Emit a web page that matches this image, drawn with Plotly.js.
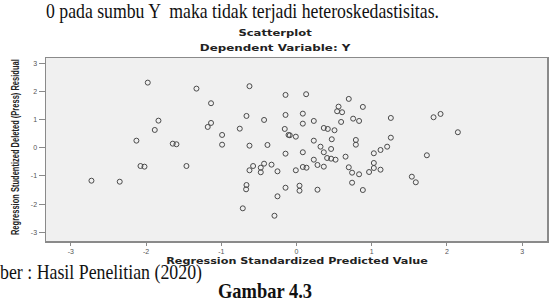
<!DOCTYPE html>
<html>
<head>
<meta charset="utf-8">
<script src="https://cdn.plot.ly/plotly-3.0.1.min.js"></script>
<style>
  html, body { margin:0; padding:0; background:#fff; width:553px; height:300px; overflow:hidden; }
  #chart { position:absolute; left:0; top:0; width:553px; height:300px; }
  .doc { position:absolute; white-space:pre; font-family:"Liberation Serif","Times New Roman",serif; font-size:22px; line-height:14px; color:#111; transform-origin:0 0; z-index:5; pointer-events:none; }
</style>
</head>
<body>
<div id="chart"></div>
<div class="doc" id="t1" data-w="393" style="left:46px; top:3.5px;">0 pada sumbu Y  maka tidak terjadi heteroskedastisitas.</div>
<div class="doc" id="t2" data-w="202" style="left:0px; top:264.5px;">ber : Hasil Penelitian (2020)</div>
<div class="doc" id="t3" data-w="94" style="left:218px; top:284px; font-weight:bold;">Gambar 4.3</div>
<script>
const predX = [-2.726,-2.350,-2.128,-2.074,-2.021,-1.977,-1.884,-1.835,-1.645,-1.596,-1.463,-1.330,-1.180,-1.136,-1.136,-0.989,-0.989,-0.754,-0.665,-0.625,-0.625,-0.431,-0.386,-0.625,-0.577,-0.665,-0.670,-0.714,-0.475,-0.475,-0.431,-0.332,-0.253,-0.253,-0.293,
  -0.146,0.128,0.695,0.559,0.882,0.540,0.606,-0.146,0.084,1.254,0.753,0.832,1.822,1.915,0.084,0.230,0.593,-0.156,0.363,0.416,0.505,-0.106,-0.089,-0.009,2.145,1.254,0.230,0.469,0.789,0.789,0.319,1.205,1.117,0.460,0.363,1.028,-0.146,0.084,1.733,0.652,0.407,0.460,0.519,0.230,1.028,0.279,0.363,0.084,0.133,0.695,1.028,1.117,-0.009,0.965,0.739,0.832,1.533,1.586,0.739,0.040,-0.146,0.040,0.279,0.882];
const residY = [-1.171,-1.207,0.248,-0.650,-0.674,2.307,0.628,0.958,0.142,0.121,-0.650,2.094,0.735,0.877,1.576,0.451,0.106,0.674,1.125,2.180,0.071,0.983,0.096,-0.802,-0.650,-1.324,-1.477,-2.151,-0.710,-0.873,-0.568,-0.603,-0.838,-1.725,-2.414,
  1.871,1.896,1.729,1.455,1.445,1.292,1.257,1.161,1.207,1.054,1.029,0.948,1.079,1.196,0.852,0.948,0.912,0.664,0.699,0.664,0.618,0.451,0.440,0.390,0.547,0.355,0.248,0.298,0.273,0.106,0.035,0.035,-0.082,-0.046,-0.163,-0.199,-0.213,-0.163,-0.270,-0.319,-0.366,-0.390,-0.426,-0.426,-0.543,-0.614,-0.674,-0.685,-0.710,-0.696,-0.721,-0.781,-0.802,-0.863,-0.887,-0.944,-1.029,-1.228,-1.242,-1.349,-1.420,-1.526,-1.491,-1.502];
const tickVals = [-3,-2,-1,0,1,2,3];
const tickText = ['-3','-2','-1','0','1','2','3'];
const chartTitle = 'Scatterplot';
const chartSubtitle = 'Dependent Variable: Y';
const xTitle = 'Regression Standardized Predicted Value';
const yTitle = 'Regression Studentized Deleted (Press) Residual';

// scanned lengths of the title texts (px), used to stretch/squeeze them
const titleWidths = [74, 151, 262, 176];

const trace = {
  x: predX, y: residY, type: 'scatter', mode: 'markers',
  marker: { symbol: 'circle-open', size: 5, color: '#4a4a4a', line: { width: 1, color: '#4a4a4a' } },
  hoverinfo: 'skip'
};

const axisCommon = {
  showgrid: false, zeroline: false, showline: true, mirror: true,
  linecolor: '#8a8a8a', linewidth: 1.5,
  ticks: 'outside', tickwidth: 1, tickcolor: '#8a8a8a',
  tickmode: 'array', tickvals: tickVals, ticktext: tickText,
  tickfont: { family: 'Liberation Sans, Arial, sans-serif', size: 7, color: '#555' },
  fixedrange: true
};

const wide = 'DejaVu Sans, Liberation Sans, sans-serif';
const layout = {
  width: 553, height: 300,
  margin: { l: 46, r: 6, t: 58, b: 59 },
  paper_bgcolor: 'rgba(0,0,0,0)', plot_bgcolor: '#f0f0f0',
  showlegend: false,
  xaxis: Object.assign({}, axisCommon, { range: [-3.33, 3.33], ticklen: 3 }),
  yaxis: Object.assign({}, axisCommon, { range: [-3.31, 3.18], ticklen: 6 }),
  annotations: [
    { text: '<b>' + chartTitle + '</b>', xref: 'paper', yref: 'paper', x: 0.458, y: 1 + (58 - 32.5) / 183, xanchor: 'center', yanchor: 'middle', showarrow: false,
      font: { family: wide, size: 9.5, color: '#222' } },
    { text: '<b>' + chartSubtitle + '</b>', xref: 'paper', yref: 'paper', x: 0.458, y: 1 + (58 - 47.5) / 183, xanchor: 'center', yanchor: 'middle', showarrow: false,
      font: { family: wide, size: 9.5, color: '#222' } },
    { text: '<b>' + xTitle + '</b>', xref: 'paper', yref: 'paper', x: 0.5, y: 1 - (260 - 58) / 183, xanchor: 'center', yanchor: 'middle', showarrow: false,
      font: { family: wide, size: 9.5, color: '#222' } },
    { text: '<b>' + yTitle + '</b>', xref: 'paper', yref: 'paper', x: (15 - 46) / 501, y: 1 - (147 - 58) / 183, xanchor: 'center', yanchor: 'middle', showarrow: false, textangle: -90,
      font: { family: 'Liberation Sans, Arial, sans-serif', size: 10.5, color: '#222' } }
  ]
};

Plotly.newPlot('chart', [trace], layout, { staticPlot: true, displayModeBar: false }).then(gd => {
  // stretch / squeeze the Plotly title texts along their baseline to the scanned lengths
  gd.querySelectorAll('.annotation').forEach(a => {
    const idx = +a.getAttribute('data-index');
    const t = a.querySelector('text.annotation-text');
    if (!t || !(idx in titleWidths)) return;
    const bb = t.getBBox();
    if (!bb.width) return;
    const sx = titleWidths[idx] / bb.width;
    const cx = bb.x + bb.width / 2, cy = bb.y + bb.height / 2;
    const prev = t.getAttribute('transform') || '';
    t.setAttribute('transform', prev + ' translate(' + cx + ',' + cy + ') scale(' + sx + ',1) translate(' + (-cx) + ',' + (-cy) + ')');
  });
});

// squeeze the document text horizontally to the widths seen in the scan
['t1','t2','t3'].forEach(id => {
  const el = document.getElementById(id);
  const target = parseFloat(el.dataset.w);
  const w = el.getBoundingClientRect().width;
  if (w > 0) el.style.transform = 'scaleX(' + (target / w) + ')';
});
</script>
</body>
</html>
